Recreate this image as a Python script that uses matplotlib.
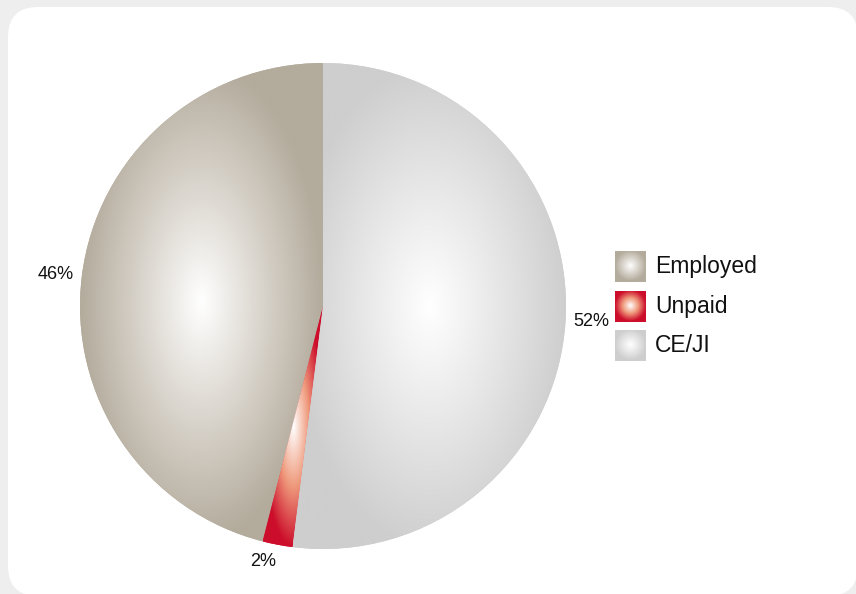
import numpy as np
import matplotlib
matplotlib.use("Agg")
import matplotlib.pyplot as plt
from matplotlib.patches import FancyBboxPatch, Rectangle
from matplotlib.colors import to_rgb

plt.rcParams["font.family"] = ["Liberation Sans", "DejaVu Sans"]

# Data
categories = ["Employed", "Unpaid", "CE/JI"]
shares = [46, 2, 52]
pct_labels = ["46%", "2%", "52%"]
colors = ["#b3ab9c", "#cc0e2b", "#cecece"]
mid_colors = ["#d9d4cc", "#ef9a7c", "#e7e7e7"]

W, H = 856, 594
CX, CY, R = 323, 288, 243

fig = plt.figure(figsize=(W / 100, H / 100), dpi=100, facecolor="#eeeeee")
ax = fig.add_axes([0, 0, 1, 1])
ax.set_facecolor("none")

# White rounded card
card = FancyBboxPatch((8, -2), 850, 589, boxstyle="round,pad=0,rounding_size=30",
                      facecolor="white", edgecolor="none", zorder=0)
ax.add_patch(card)


def radial_image(x0, y0, x1, y1, color, mid, clip, r=0.5, z=2):
    """Fill a box with a white -> mid -> colour radial gradient, clipped to a patch."""
    n = 300
    xs = np.linspace(0, 1, n)
    X, Y = np.meshgrid(xs, xs)
    d = np.clip(np.sqrt((X - 0.5) ** 2 + (Y - 0.5) ** 2) / r, 0, 1)
    stops = np.array([0.0, 0.5, 1.0])
    cols = np.array([[1, 1, 1], to_rgb(mid), to_rgb(color)])
    img = np.stack([np.interp(d, stops, cols[:, k]) for k in range(3)], axis=-1)
    im = ax.imshow(img, extent=(x0, x1, y0, y1), origin="lower",
                   interpolation="bilinear", zorder=z, aspect="auto")
    im.set_clip_path(clip)
    return im


wedges, _ = ax.pie(shares, colors=colors, startangle=90, counterclock=True,
                   center=(CX, CY), radius=R, wedgeprops=dict(linewidth=0))

for w, col, mc in zip(wedges, colors, mid_colors):
    w.set_zorder(1)
    t = np.radians(np.linspace(w.theta1, w.theta2, 400))
    xs = np.concatenate([[CX], CX + R * np.cos(t)])
    ys = np.concatenate([[CY], CY + R * np.sin(t)])
    radial_image(xs.min(), ys.min(), xs.max(), ys.max(), col, mc, w)

# Percentage labels just outside each slice
dist = 8
for w, lab in zip(wedges, pct_labels):
    mid = np.radians((w.theta1 + w.theta2) / 2)
    c, s = np.cos(mid), np.sin(mid)
    ha = "left" if c > 0 else "right"
    va = "center"
    if abs(s) > 0.9:
        va = "top" if s < 0 else "bottom"
    ax.text(CX + (R + dist) * c, CY + (R + dist) * s, lab,
            ha=ha, va=va, fontsize=13, color="#111111", zorder=5)

# Legend
leg_x = 615
leg_y = [328, 288, 249]
for name, col, mc, yc in zip(categories, colors, mid_colors, leg_y):
    sq = Rectangle((leg_x, yc - 15.5), 31, 31, facecolor=col, edgecolor="none", zorder=3)
    ax.add_patch(sq)
    radial_image(leg_x, yc - 15.5, leg_x + 31, yc + 15.5, col, mc, sq, z=4)
    ax.text(leg_x + 40, yc, name, ha="left", va="center", fontsize=16.5,
            color="#111111", zorder=5)

ax.set_xlim(0, W)
ax.set_ylim(0, H)
ax.set_aspect("auto")
ax.axis("off")

fig.savefig("out.png", dpi=100, facecolor=fig.get_facecolor())
